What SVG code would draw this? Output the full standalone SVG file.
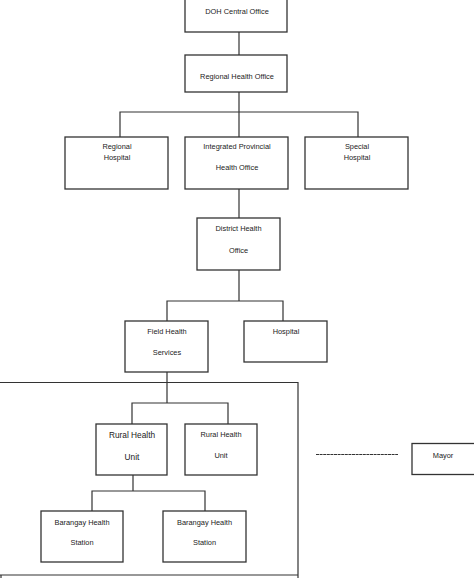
<svg xmlns="http://www.w3.org/2000/svg" width="474" height="578" viewBox="0 0 474 578">
<style>
.box{fill:#fff;stroke:#333;stroke-width:1.3}
.ln{fill:none;stroke:#333;stroke-width:1.2}
text{font-family:"Liberation Sans",Arial,sans-serif;font-size:7.4px;fill:#222;text-anchor:middle}
</style>
<rect width="474" height="578" fill="#fff"/>
<g id="connectors">
<path class="ln" d="M239,32V55"/>
<path class="ln" d="M239,92V112M120,137V112H358V137M239,112V137"/>
<path class="ln" d="M239,189V218"/>
<path class="ln" d="M239,270V301M167,321V301H283V321"/>
<path class="ln" d="M167,372V403M132,424V403H228V424"/>
<path class="ln" d="M133,475V491M92,511V491H205V511"/>
<path class="ln" d="M316,454.5H398" stroke="#666" stroke-dasharray="3,0.6"/>
</g>
<g id="boundary">
<path class="ln" d="M0,382.5H298V578M0,575H298M1,575V578"/>
</g>
<g id="doh"><rect class="box" x="185" y="-2" width="102" height="34"/><text x="237" y="13.6">DOH Central Office</text></g>
<g id="rho"><rect class="box" x="185" y="55" width="102" height="37"/><text x="237" y="78.6">Regional Health Office</text></g>
<g id="regional-hospital"><rect class="box" x="65" y="137" width="103" height="52"/><text x="117" y="149.3">Regional</text><text x="117" y="160.3">Hospital</text></g>
<g id="ipho"><rect class="box" x="185" y="137" width="103" height="52"/><text x="237" y="149.3">Integrated Provincial</text><text x="237" y="170.3">Health Office</text></g>
<g id="special-hospital"><rect class="box" x="305" y="137" width="103" height="52"/><text x="357" y="149.3">Special</text><text x="357" y="160.3">Hospital</text></g>
<g id="district"><rect class="box" x="197" y="218" width="83" height="52"/><text x="238.5" y="231">District Health</text><text x="238.5" y="252.6">Office</text></g>
<g id="field"><rect class="box" x="125" y="321" width="83" height="51"/><text x="167" y="334.3">Field Health</text><text x="167" y="355">Services</text></g>
<g id="hospital"><rect class="box" x="244" y="321" width="83" height="41"/><text x="286" y="334.3">Hospital</text></g>
<g id="rhu1"><rect class="box" x="96" y="424" width="71" height="51"/><text x="132" y="438" style="font-size:8.3px">Rural Health</text><text x="132" y="460" style="font-size:8.3px">Unit</text></g>
<g id="rhu2"><rect class="box" x="185" y="424" width="72" height="51"/><text x="221" y="436.6">Rural Health</text><text x="221" y="457.6">Unit</text></g>
<g id="bhs1"><rect class="box" x="41" y="511" width="82" height="51"/><text x="82" y="524.6">Barangay Health</text><text x="82" y="544.6">Station</text></g>
<g id="bhs2"><rect class="box" x="163" y="511" width="83" height="51"/><text x="204.5" y="524.6">Barangay Health</text><text x="204.5" y="544.6">Station</text></g>
<g id="mayor"><rect class="box" x="412" y="443.5" width="66" height="31"/><text x="443" y="457.6">Mayor</text></g>
</svg>
